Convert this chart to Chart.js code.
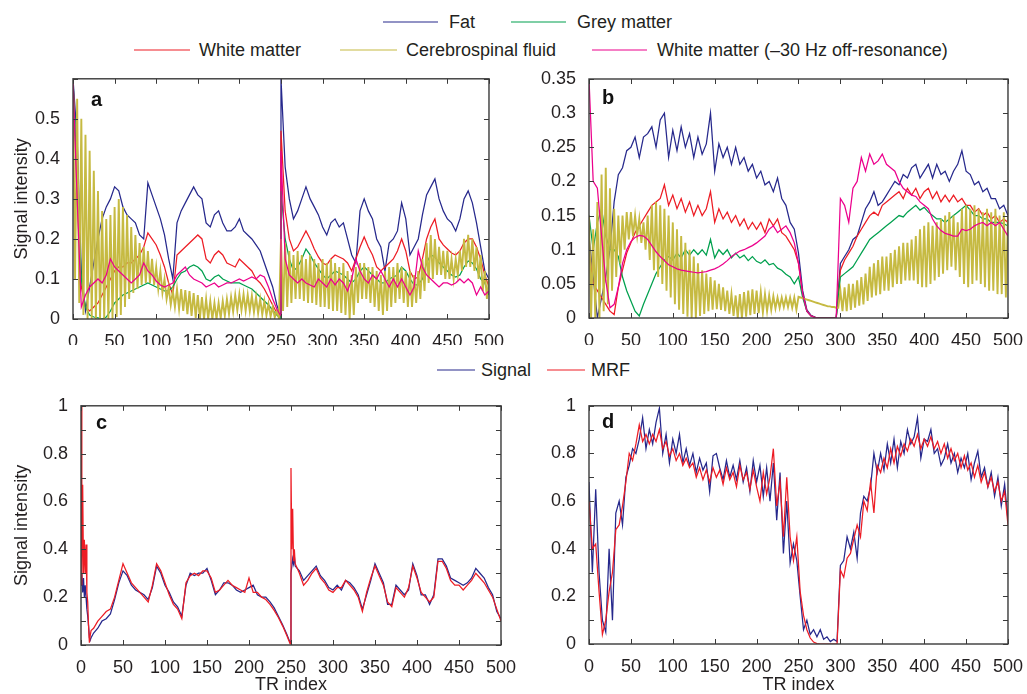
<!DOCTYPE html>
<html>
<head>
<meta charset="utf-8">
<script src="https://cdn.jsdelivr.net/npm/chart.js@4.4.1/dist/chart.umd.min.js"></script>
<style>
  html, body { margin: 0; padding: 0; background: #fff; }
  #fig { position: relative; width: 1027px; height: 694px; overflow: hidden;
         font-family: 'Liberation Sans', Arial, sans-serif; color: #231f20; }
  canvas { position: absolute; }
  .lg { position: absolute; display: flex; align-items: center; font-size: 18px;
        white-space: nowrap; transform: translateY(-50%); }
  .lg i { display: inline-block; border-top: 1.5px solid; }
</style>
</head>
<body>
<div id="fig">
  <canvas id="chartA" width="508" height="282" style="left:0;top:63px"></canvas>
  <canvas id="chartB" width="507" height="282" style="left:520px;top:63px"></canvas>
  <canvas id="chartC" width="520" height="304" style="left:0;top:390px"></canvas>
  <canvas id="chartD" width="507" height="304" style="left:520px;top:390px"></canvas>
</div>
<script>
// ---- data ----
const tissueNames = ['Fat', 'Grey matter', 'White matter', 'Cerebrospinal fluid', 'White matter (\u201330 Hz off-resonance)'];
const matchNames = ['Signal', 'MRF'];

const range = (a, b, s) => { const r = []; for (let v = a; v <= b + 1e-9; v += s) r.push(v); return r; };

// TR index lists
const trA = [...range(0, 245, 5), 249, ...range(250, 500, 5)];
const trB = range(0, 500, 5);
const trC = [...range(0, 12, 1), ...range(15, 245, 5), 249, ...range(250, 255, 1), ...range(260, 500, 5)];
const trD = range(0, 500, 4);
const trPeak = range(0, 500, 5);
const trTrough = range(2.5, 497.5, 5);

// panel a
const fatA = [
  0.6, 0.45, 0.12, 0.02, 0.08, 0.14, 0.2, 0.25, 0.28, 0.3,
  0.33, 0.32, 0.28, 0.26, 0.25, 0.24, 0.21, 0.2, 0.34, 0.31,
  0.28, 0.25, 0.21, 0.15, 0.1, 0.24, 0.27, 0.29, 0.31, 0.33,
  0.31, 0.3, 0.24, 0.23, 0.26, 0.27, 0.24, 0.22, 0.22, 0.23,
  0.25, 0.22, 0.21, 0.2, 0.185, 0.17, 0.14, 0.11, 0.08, 0.035,
  0.01,
  0.6, 0.38, 0.3, 0.25, 0.27, 0.3, 0.33, 0.3, 0.28, 0.26,
  0.23, 0.21, 0.24, 0.25, 0.23, 0.24, 0.2, 0.16, 0.14, 0.27,
  0.3, 0.27, 0.25, 0.2, 0.18, 0.12, 0.19, 0.2, 0.22, 0.29,
  0.25, 0.16, 0.18, 0.2, 0.26, 0.31, 0.33, 0.35, 0.3, 0.27,
  0.25, 0.24, 0.22, 0.25, 0.3, 0.32, 0.29, 0.24, 0.18, 0.12,
  0.1
];
const wmA = [
  0.6, 0.3, 0.08, 0.03, 0.02, 0.03, 0.04, 0.06, 0.08, 0.1,
  0.12, 0.13, 0.13, 0.14, 0.14, 0.15, 0.16, 0.18, 0.215, 0.2,
  0.185, 0.16, 0.13, 0.09, 0.06, 0.16, 0.17, 0.18, 0.19, 0.2,
  0.21, 0.2, 0.15, 0.14, 0.16, 0.17, 0.16, 0.14, 0.135, 0.13,
  0.15, 0.14, 0.13, 0.12, 0.1, 0.09, 0.075, 0.055, 0.035, 0.015,
  0.005,
  0.47, 0.27, 0.2, 0.17, 0.18, 0.2, 0.22, 0.2, 0.175, 0.155,
  0.14, 0.135, 0.15, 0.16, 0.155, 0.15, 0.14, 0.12, 0.15, 0.18,
  0.205, 0.18, 0.16, 0.13, 0.12, 0.13, 0.14, 0.15, 0.17, 0.2,
  0.17, 0.12, 0.1, 0.105, 0.15, 0.2, 0.23, 0.25, 0.2, 0.185,
  0.175, 0.165, 0.16, 0.17, 0.19, 0.2, 0.2, 0.18, 0.15, 0.11,
  0.08
];
const gmA = [
  0.6, 0.35, 0.1, 0.03, 0.01, 0.005, 0.003, 0, 0.005, 0.02,
  0.04, 0.05, 0.06, 0.065, 0.07, 0.075, 0.08, 0.085, 0.09, 0.085,
  0.08, 0.075, 0.07, 0.07, 0.08, 0.1, 0.115, 0.12, 0.13, 0.135,
  0.13, 0.12, 0.1, 0.095, 0.105, 0.11, 0.1, 0.095, 0.09, 0.09,
  0.09, 0.085, 0.08, 0.075, 0.065, 0.055, 0.045, 0.035, 0.022, 0.01,
  0.002,
  0.32, 0.2, 0.15, 0.12, 0.13, 0.15, 0.175, 0.16, 0.14, 0.125,
  0.11, 0.1, 0.11, 0.12, 0.115, 0.11, 0.1, 0.09, 0.1, 0.12,
  0.13, 0.12, 0.11, 0.1, 0.09, 0.09, 0.1, 0.105, 0.11, 0.13,
  0.12, 0.1, 0.085, 0.085, 0.1, 0.14, 0.16, 0.155, 0.14, 0.13,
  0.12, 0.11, 0.105, 0.11, 0.13, 0.145, 0.14, 0.125, 0.1, 0.09,
  0.06
];
const offA = [
  0.6, 0.3, 0.03, 0.06, 0.08, 0.09, 0.1, 0.09, 0.11, 0.15,
  0.13, 0.12, 0.11, 0.1, 0.09, 0.1, 0.11, 0.14, 0.12, 0.11,
  0.095, 0.085, 0.08, 0.085, 0.09, 0.11, 0.12, 0.13, 0.11, 0.1,
  0.095, 0.09, 0.08, 0.085, 0.09, 0.08, 0.085, 0.09, 0.09, 0.095,
  0.1, 0.095, 0.1, 0.105, 0.1, 0.11, 0.105, 0.08, 0.05, 0.025,
  0.01,
  0.42, 0.15, 0.11, 0.1, 0.09, 0.1, 0.09, 0.085, 0.08, 0.1,
  0.09, 0.08, 0.1, 0.085, 0.1, 0.09, 0.07, 0.1, 0.15, 0.12,
  0.1, 0.09, 0.11, 0.1, 0.12, 0.1, 0.08, 0.1, 0.08, 0.1,
  0.08, 0.06, 0.08, 0.17, 0.13, 0.11, 0.1, 0.09, 0.08, 0.09,
  0.09, 0.085, 0.09, 0.1, 0.09, 0.1, 0.09, 0.06, 0.08, 0.06,
  0.07
];
const csfPeakA = [
  0.58, 0.55, 0.5, 0.46, 0.42, 0.37, 0.32, 0.27, 0.25, 0.26,
  0.28, 0.3, 0.28, 0.26, 0.23, 0.21, 0.19, 0.18, 0.17, 0.15,
  0.13, 0.12, 0.1, 0.08, 0.07, 0.075, 0.075, 0.072, 0.07, 0.065,
  0.06, 0.055, 0.05, 0.045, 0.04, 0.04, 0.045, 0.05, 0.055, 0.06,
  0.062, 0.062, 0.06, 0.058, 0.055, 0.05, 0.045, 0.038, 0.03, 0.02,
  0.2, 0.19, 0.17, 0.16, 0.17, 0.16, 0.15, 0.16, 0.15, 0.14,
  0.15, 0.14, 0.15, 0.14, 0.13, 0.14, 0.12, 0.11, 0.13, 0.14,
  0.14, 0.13, 0.13, 0.12, 0.11, 0.12, 0.13, 0.13, 0.14, 0.13,
  0.12, 0.12, 0.11, 0.12, 0.15, 0.19, 0.21, 0.2, 0.18, 0.17,
  0.17, 0.15, 0.15, 0.17, 0.2, 0.21, 0.2, 0.18, 0.16, 0.12,
  0.1
];
const csfTroughA = [
  0.1, 0.04, 0.01, 0, 0, 0, 0, 0, 0, 0,
  0.005, 0.01, 0.03, 0.05, 0.065, 0.075, 0.085, 0.09, 0.09, 0.085,
  0.075, 0.065, 0.05, 0.035, 0.03, 0.025, 0.02, 0.012, 0.008, 0.003,
  0, 0, 0, 0, 0, 0.002, 0.008, 0.012, 0.018, 0.022,
  0.022, 0.02, 0.02, 0.017, 0.014, 0.011, 0.009, 0.006, 0.004, 0.002,
  0.02, 0.03, 0.04, 0.05, 0.05, 0.045, 0.04, 0.04, 0.035, 0.03,
  0.03, 0.025, 0.02, 0.02, 0.015, 0.01, 0, 0.01, 0.04, 0.05,
  0.05, 0.04, 0.03, 0.02, 0.01, 0.02, 0.03, 0.04, 0.05, 0.04,
  0.03, 0.03, 0.04, 0.05, 0.07, 0.09, 0.1, 0.11, 0.11, 0.1,
  0.1, 0.1, 0.11, 0.12, 0.13, 0.13, 0.12, 0.1, 0.07, 0.05
];

// panel b
const fatB = [
  0.12, 0.06, 0, 0.03, 0.06, 0.1, 0.17, 0.21, 0.22, 0.245,
  0.25, 0.265, 0.235, 0.265, 0.27, 0.28, 0.25, 0.29, 0.3, 0.235,
  0.275, 0.245, 0.28, 0.25, 0.27, 0.235, 0.265, 0.24, 0.255, 0.3,
  0.215, 0.255, 0.235, 0.25, 0.225, 0.25, 0.225, 0.235, 0.215, 0.225,
  0.205, 0.215, 0.195, 0.2, 0.185, 0.205, 0.175, 0.165, 0.14, 0.13,
  0.095, 0.04, 0.012, 0.004, 0.001, 0, 0, 0, 0, 0,
  0.08, 0.09, 0.1, 0.115, 0.12, 0.14, 0.16, 0.17, 0.185, 0.165,
  0.17, 0.18, 0.19, 0.2, 0.195, 0.21, 0.205, 0.22, 0.225, 0.205,
  0.215, 0.225, 0.205, 0.225, 0.21, 0.215, 0.2, 0.215, 0.225, 0.245,
  0.215, 0.21, 0.195, 0.2, 0.185, 0.19, 0.175, 0.175, 0.16, 0.165,
  0.15
];
const wmB = [
  0.1, 0.05, 0.04, 0.03, 0.02, 0.01, 0.005, 0.045, 0.07, 0.095,
  0.11, 0.125, 0.135, 0.145, 0.155, 0.165, 0.17, 0.175, 0.195, 0.165,
  0.18, 0.16, 0.175, 0.155, 0.17, 0.15, 0.165, 0.15, 0.16, 0.185,
  0.14, 0.16, 0.145, 0.155, 0.14, 0.15, 0.135, 0.145, 0.13, 0.14,
  0.13, 0.14, 0.125, 0.145, 0.135, 0.145, 0.125, 0.12, 0.11, 0.1,
  0.08, 0.035, 0.01, 0.003, 0.001, 0, 0, 0, 0, 0,
  0.07, 0.085, 0.095, 0.105, 0.12, 0.13, 0.14, 0.15, 0.155, 0.15,
  0.165, 0.17, 0.175, 0.18, 0.185, 0.175, 0.19, 0.18, 0.19, 0.175,
  0.185, 0.19, 0.175, 0.185, 0.17, 0.18, 0.17, 0.18, 0.17, 0.175,
  0.165, 0.165, 0.155, 0.16, 0.15, 0.155, 0.145, 0.15, 0.14, 0.145,
  0.14
];
const gmB = [
  0.15, 0.1, 0.14, 0.16, 0.12, 0.1, 0.1, 0.09, 0.06, 0.04,
  0.025, 0.01, 0.003, 0.02, 0.035, 0.05, 0.065, 0.075, 0.085, 0.09,
  0.085, 0.095, 0.088, 0.1, 0.092, 0.1, 0.093, 0.1, 0.092, 0.115,
  0.088, 0.1, 0.093, 0.1, 0.088, 0.095, 0.088, 0.092, 0.084, 0.09,
  0.083, 0.08, 0.085, 0.078, 0.08, 0.073, 0.07, 0.064, 0.06, 0.05,
  0.06, 0.03, 0.01, 0.003, 0.001, 0, 0, 0, 0, 0,
  0.06, 0.065, 0.07, 0.075, 0.085, 0.095, 0.105, 0.115, 0.12, 0.125,
  0.13, 0.135, 0.14, 0.145, 0.15, 0.148, 0.155, 0.16, 0.165, 0.158,
  0.162, 0.155, 0.15, 0.145, 0.145, 0.14, 0.145, 0.15, 0.155, 0.16,
  0.165, 0.158, 0.15, 0.15, 0.145, 0.145, 0.14, 0.14, 0.14, 0.138,
  0.135
];
const offB = [
  0.35, 0.2, 0.19, 0.12, 0.055, 0.015, 0.02, 0.045, 0.08, 0.1,
  0.112, 0.118, 0.121, 0.12, 0.115, 0.106, 0.097, 0.09, 0.084, 0.078,
  0.075, 0.072, 0.07, 0.069, 0.068, 0.067, 0.066, 0.067, 0.068, 0.07,
  0.072, 0.075, 0.079, 0.084, 0.09, 0.094, 0.098, 0.1, 0.103, 0.106,
  0.11, 0.115, 0.12, 0.13, 0.135, 0.125, 0.13, 0.135, 0.125, 0.11,
  0.08, 0.035, 0.01, 0.003, 0.001, 0, 0, 0, 0, 0,
  0.175, 0.165, 0.14, 0.19, 0.2, 0.235, 0.215, 0.24, 0.225, 0.23,
  0.24, 0.225, 0.22, 0.215, 0.2, 0.19, 0.185, 0.18, 0.178, 0.17,
  0.165, 0.16, 0.145, 0.135, 0.128, 0.124, 0.122, 0.12, 0.12, 0.13,
  0.128, 0.13, 0.135, 0.138, 0.14, 0.135, 0.14, 0.135, 0.14, 0.13,
  0.12
];
const csfPeakB = [
  0.15, 0.13, 0.17, 0.21, 0.22, 0.19, 0.16, 0.15, 0.15, 0.155,
  0.155, 0.15, 0.145, 0.14, 0.15, 0.165, 0.17, 0.165, 0.16, 0.15,
  0.14, 0.13, 0.12, 0.11, 0.1, 0.09, 0.08, 0.07, 0.065, 0.06,
  0.055, 0.05, 0.045, 0.04, 0.035, 0.033, 0.035, 0.038, 0.04, 0.042,
  0.04, 0.038, 0.035, 0.033, 0.032, 0.03, 0.03, 0.03, 0.03, 0.03,
  0.031, 0.029, 0.027, 0.025, 0.023, 0.021, 0.019, 0.017, 0.016, 0.015,
  0.04, 0.045, 0.05, 0.05, 0.055, 0.06, 0.065, 0.075, 0.08, 0.085,
  0.09, 0.09, 0.095, 0.1, 0.105, 0.11, 0.11, 0.115, 0.12, 0.13,
  0.135, 0.14, 0.135, 0.14, 0.145, 0.15, 0.155, 0.15, 0.14, 0.16,
  0.165, 0.16, 0.165, 0.16, 0.155, 0.16, 0.155, 0.16, 0.15, 0.155,
  0.15
];
const csfTroughB = [
  0, 0, 0, 0.01, 0.02, 0.04, 0.06, 0.08, 0.1, 0.115,
  0.12, 0.12, 0.11, 0.1, 0.085, 0.07, 0.06, 0.05, 0.04, 0.03,
  0.02, 0.012, 0.006, 0.002, 0, 0, 0.003, 0.006, 0.01, 0.012,
  0.013, 0.012, 0.01, 0.006, 0.003, 0, 0, 0.002, 0.004, 0.006,
  0.007, 0.008, 0.01, 0.012, 0.014, 0.015, 0.016, 0.016, 0.015, 0.012,
  0.03, 0.028, 0.026, 0.024, 0.022, 0.02, 0.018, 0.017, 0.016, 0.015,
  0.01, 0.01, 0.012, 0.015, 0.018, 0.02, 0.025, 0.03, 0.033, 0.035,
  0.04, 0.04, 0.045, 0.05, 0.05, 0.055, 0.055, 0.055, 0.05, 0.045,
  0.045, 0.05, 0.055, 0.06, 0.065, 0.07, 0.075, 0.07, 0.06, 0.05,
  0.045, 0.05, 0.055, 0.05, 0.045, 0.04, 0.04, 0.035, 0.035, 0.03
];

// panel c
const mrfC = [
  1.0, 0.25, 0.67, 0.3, 0.44, 0.3, 0.42, 0.22, 0.18, 0.08, 0.01, 0.04, 0.06,
  0.07, 0.1, 0.12, 0.14, 0.15, 0.2, 0.27, 0.34, 0.3, 0.26,
  0.24, 0.22, 0.2, 0.18, 0.25, 0.34, 0.31, 0.26, 0.21, 0.17,
  0.15, 0.11, 0.26, 0.29, 0.3, 0.29, 0.31, 0.31, 0.28, 0.22,
  0.23, 0.25, 0.27, 0.25, 0.24, 0.23, 0.22, 0.28, 0.22, 0.22,
  0.2, 0.19, 0.17, 0.145, 0.115, 0.08, 0.04,
  0.005,
  0.74, 0.4, 0.57, 0.35, 0.4, 0.34,
  0.3, 0.25, 0.27, 0.3, 0.32, 0.28, 0.26, 0.23, 0.22, 0.24,
  0.24, 0.27, 0.25, 0.23, 0.2, 0.14, 0.22, 0.28, 0.33, 0.29,
  0.25, 0.18, 0.16, 0.24, 0.22, 0.2, 0.24, 0.33, 0.28, 0.22,
  0.2, 0.18, 0.2, 0.35, 0.35, 0.32, 0.27, 0.25, 0.25, 0.23,
  0.25, 0.27, 0.3, 0.28, 0.26, 0.23, 0.2, 0.15, 0.1
];
const sigC = [
  0.25, 0.3, 0.22, 0.28, 0.2, 0.25, 0.2, 0.15, 0.12, 0.08, 0.03, 0.02, 0.03,
  0.05, 0.07, 0.1, 0.11, 0.13, 0.19, 0.26, 0.31, 0.29, 0.25,
  0.23, 0.22, 0.21, 0.19, 0.24, 0.33, 0.3, 0.25, 0.22, 0.18,
  0.16, 0.12, 0.25, 0.3, 0.29, 0.3, 0.3, 0.32, 0.27, 0.21,
  0.23, 0.26, 0.26, 0.25, 0.23, 0.22, 0.23, 0.24, 0.25, 0.21,
  0.2, 0.2, 0.18, 0.155, 0.12, 0.085, 0.045,
  0.01,
  0.3, 0.33, 0.36, 0.34, 0.37, 0.33,
  0.31, 0.27, 0.29, 0.31, 0.33, 0.29, 0.27, 0.24, 0.23, 0.25,
  0.23, 0.27, 0.26, 0.24, 0.21, 0.15, 0.21, 0.27, 0.34, 0.3,
  0.26, 0.17, 0.17, 0.25, 0.23, 0.21, 0.23, 0.34, 0.29, 0.21,
  0.21, 0.17, 0.21, 0.36, 0.36, 0.33, 0.28, 0.27, 0.26, 0.25,
  0.26, 0.28, 0.32, 0.3, 0.28, 0.24, 0.21, 0.14, 0.11
];

// panel d
const mrfD = [
  0.6, 0.4, 0.42, 0.22, 0.04, 0.1, 0.22, 0.3, 0.48, 0.5,
  0.58, 0.68, 0.8, 0.77, 0.84, 0.92, 0.85, 0.88, 0.84, 0.88,
  0.85, 0.9, 0.82, 0.85, 0.79, 0.82, 0.77, 0.8, 0.75, 0.78,
  0.74, 0.76, 0.7, 0.74, 0.69, 0.73, 0.68, 0.74, 0.7, 0.73,
  0.67, 0.74, 0.69, 0.72, 0.66, 0.75, 0.69, 0.72, 0.65, 0.73,
  0.66, 0.6, 0.72, 0.63, 0.7, 0.82, 0.58, 0.68, 0.45, 0.7,
  0.45, 0.35, 0.45, 0.22, 0.12, 0.06, 0.025, 0.008, 0.002, 0,
  0, 0, 0, 0, 0, 0.31, 0.28, 0.36, 0.38, 0.44,
  0.5, 0.45, 0.6, 0.56, 0.68, 0.55, 0.75, 0.72, 0.78, 0.74,
  0.82, 0.76, 0.83, 0.79, 0.84, 0.81, 0.86, 0.83, 0.88, 0.82,
  0.86, 0.83, 0.87, 0.82, 0.85, 0.8, 0.84, 0.78, 0.82, 0.77,
  0.8, 0.74, 0.79, 0.73, 0.76, 0.7, 0.75, 0.68, 0.72, 0.66,
  0.7, 0.64, 0.68, 0.6, 0.64, 0.5
];
const sigD = [
  0.68, 0.3, 0.65, 0.3, 0.1, 0.05, 0.4, 0.1, 0.55, 0.6,
  0.5, 0.7, 0.75, 0.82, 0.8, 0.86, 0.95, 0.82, 0.9, 0.84,
  0.93, 0.99, 0.8, 0.88, 0.76, 0.86, 0.8, 0.88, 0.76, 0.82,
  0.75, 0.8, 0.72, 0.78, 0.73, 0.76, 0.64, 0.79, 0.8, 0.74,
  0.69, 0.77, 0.7, 0.75, 0.69, 0.77, 0.68, 0.74, 0.64, 0.77,
  0.68, 0.75, 0.62, 0.74, 0.6, 0.76, 0.52, 0.72, 0.38, 0.6,
  0.34, 0.42, 0.35, 0.2, 0.06, 0.1, 0.04, 0.06, 0.03, 0.06,
  0.02, 0.03, 0.01, 0.02, 0.01, 0.33, 0.35, 0.45, 0.4, 0.47,
  0.36, 0.55, 0.62, 0.6, 0.66, 0.8, 0.72, 0.8, 0.73, 0.84,
  0.76, 0.86, 0.74, 0.85, 0.8, 0.9, 0.84, 0.87, 0.95, 0.78,
  0.86, 0.85, 0.9, 0.8, 0.82, 0.75, 0.78, 0.84, 0.76, 0.8,
  0.72, 0.78, 0.74, 0.8, 0.69, 0.76, 0.81, 0.7, 0.74, 0.66,
  0.72, 0.62, 0.7, 0.58, 0.67, 0.52
];

// ---- styling ----
const INK = '#231f20';
const FONT = "'Liberation Sans', Arial, sans-serif";
const C = {
  fat: 'rgb(38,40,140)', gm: 'rgb(0,160,78)', wm: 'rgb(237,28,36)',
  csf: 'rgb(198,186,66)', off: 'rgb(236,0,140)', sig: 'rgb(38,40,140)', mrf: 'rgb(237,28,36)'
};

const pts = (xs, ys) => xs.map((x, i) => ({ x, y: ys[i] }));
const band = (hi, lo) => pts([...trPeak, ...trTrough], [...hi, ...lo]).sort((p, q) => p.x - q.x);
const ds = (label, data, color, w) => ({ label, data, borderColor: color, backgroundColor: color, borderWidth: w || 1.25, pointRadius: 0 });
const fmt = v => String(Math.round(v * 100) / 100);

// box with inward ticks, plus panel letter
const frame = {
  id: 'frame',
  afterDatasetsDraw(chart, args, o) {
    const { ctx, chartArea: a, scales: { x, y } } = chart;
    ctx.save();
    ctx.strokeStyle = '#3a3a3a';
    ctx.lineWidth = 1;
    ctx.beginPath();
    x.ticks.forEach(t => {
      const px = Math.round(x.getPixelForValue(t.value)) + 0.5;
      ctx.moveTo(px, a.bottom); ctx.lineTo(px, a.bottom - 5);
      ctx.moveTo(px, a.top); ctx.lineTo(px, a.top + 5);
    });
    y.ticks.forEach(t => {
      const py = Math.round(y.getPixelForValue(t.value)) + 0.5;
      ctx.moveTo(a.left, py); ctx.lineTo(a.left + 5, py);
      ctx.moveTo(a.right, py); ctx.lineTo(a.right - 5, py);
    });
    ctx.stroke();
    ctx.lineWidth = 1.4;
    ctx.strokeRect(a.left, a.top, a.right - a.left, a.bottom - a.top);
    ctx.fillStyle = '#111';
    ctx.font = 'bold 20px ' + FONT;
    ctx.textBaseline = 'middle';
    ctx.fillText(o.letter, a.left + o.dx, a.top + o.dy);
    ctx.restore();
  }
};

function panel(id, o) {
  return new Chart(document.getElementById(id), {
    type: 'line',
    data: { datasets: o.datasets },
    options: {
      responsive: false,
      animation: false,
      events: [],
      layout: { padding: { top: o.padTop, right: o.padRight, left: 0, bottom: 0 } },
      plugins: {
        legend: { display: false },
        tooltip: { enabled: false },
        frame: { letter: o.letter, dx: o.dx, dy: o.dy }
      },
      scales: {
        x: {
          type: 'linear', min: 0, max: 500,
          grid: { display: false }, border: { display: false },
          ticks: { stepSize: 50, padding: 4, autoSkip: false, maxRotation: 0, color: INK, font: { family: FONT, size: 18 } },
          title: { display: !!o.xTitle, text: o.xTitle || '', color: INK, font: { family: FONT, size: 18, lineHeight: 1 }, padding: 0 },
          afterFit: s => { s.height = o.xh; }
        },
        y: {
          min: 0, max: o.ymax,
          grid: { display: false }, border: { display: false },
          ticks: { stepSize: o.ystep, padding: 5, autoSkip: false, color: INK, font: { family: FONT, size: 18 }, callback: o.ylabel },
          title: { display: !!o.yTitle, text: o.yTitle || '', color: INK, font: { family: FONT, size: 18 }, padding: { top: 11, bottom: 0 } },
          afterFit: s => { s.width = o.yw; }
        }
      }
    },
    plugins: [frame]
  });
}

const tissueSets = (fat, gm, wm, csf, off) => [
  ds(tissueNames[4], off, C.off),
  ds(tissueNames[3], csf, C.csf, 1.9),
  ds(tissueNames[1], gm, C.gm),
  ds(tissueNames[2], wm, C.wm),
  ds(tissueNames[0], fat, C.fat)
];

panel('chartA', {
  datasets: tissueSets(pts(trA, fatA), pts(trA, gmA), pts(trA, wmA), band(csfPeakA, csfTroughA), pts(trA, offA)),
  padTop: 12, padRight: 16, yw: 73, xh: 26, ymax: 0.6, ystep: 0.1,
  ylabel: v => (v > 0.55 ? '' : fmt(v)), yTitle: 'Signal intensity',
  letter: 'a', dx: 18, dy: 22
});
panel('chartB', {
  datasets: tissueSets(pts(trB, fatB), pts(trB, gmB), pts(trB, wmB), band(csfPeakB, csfTroughB), pts(trB, offB)),
  padTop: 16, padRight: 18, yw: 69, xh: 27, ymax: 0.35, ystep: 0.05,
  ylabel: v => fmt(v), letter: 'b', dx: 13, dy: 19
});
const evenOnly = v => (Math.round(v * 10) % 2 === 0 ? fmt(v) : '');
panel('chartC', {
  datasets: [ds(matchNames[1], pts(trC, mrfC), C.mrf), ds(matchNames[0], pts(trC, sigC), C.sig)],
  padTop: 12, padRight: 19, yw: 81, xh: 49, ymax: 1, ystep: 0.1,
  ylabel: evenOnly, yTitle: 'Signal intensity', xTitle: 'TR index',
  letter: 'c', dx: 15, dy: 18
});
panel('chartD', {
  datasets: [ds(matchNames[1], pts(trD, mrfD), C.mrf), ds(matchNames[0], pts(trD, sigD), C.sig)],
  padTop: 12, padRight: 16, yw: 69, xh: 50, ymax: 1, ystep: 0.1,
  ylabel: evenOnly, xTitle: 'TR index',
  letter: 'd', dx: 13, dy: 17
});

// ---- legends (HTML) ----
const legendSpots = [
  { name: tissueNames[0], color: C.fat, x: 383, y: 22, len: 55, gap: 11 },
  { name: tissueNames[1], color: C.gm, x: 511, y: 22, len: 55, gap: 11 },
  { name: tissueNames[2], color: C.wm, x: 134, y: 50, len: 56, gap: 9 },
  { name: tissueNames[3], color: C.csf, x: 340, y: 50, len: 57, gap: 9 },
  { name: tissueNames[4], color: C.off, x: 592, y: 50, len: 55, gap: 10 },
  { name: matchNames[0], color: C.sig, x: 437, y: 370, len: 38, gap: 6 },
  { name: matchNames[1], color: C.mrf, x: 547, y: 370, len: 38, gap: 6 }
];
const fig = document.getElementById('fig');
legendSpots.forEach(l => {
  const d = document.createElement('div');
  d.className = 'lg';
  d.style.left = l.x + 'px';
  d.style.top = l.y + 'px';
  const line = document.createElement('i');
  line.style.width = l.len + 'px';
  line.style.borderColor = l.color;
  line.style.marginRight = l.gap + 'px';
  d.appendChild(line);
  d.appendChild(document.createTextNode(l.name));
  fig.appendChild(d);
});
</script>
</body>
</html>
